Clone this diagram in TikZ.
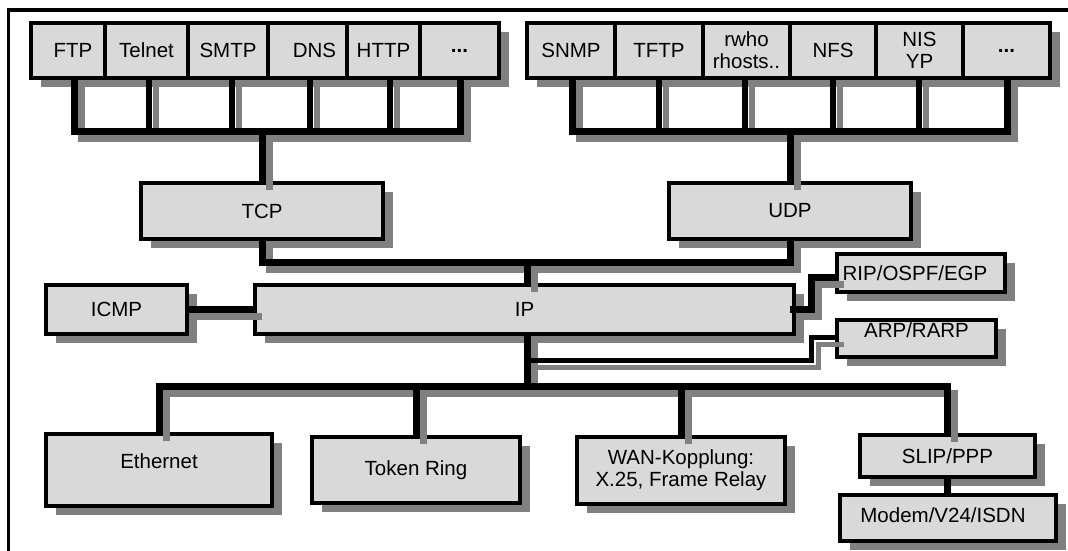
\documentclass[tikz,border=0pt]{standalone}
\usepackage{fontspec}
\setmainfont{Liberation Sans}
\usetikzlibrary{shadows}

\definecolor{boxfill}{gray}{0.85}
\definecolor{shadowgray}{gray}{0.5}
\newcommand\lblfont{\fontsize{20.5}{22}\selectfont}

% all connectors between the protocol boxes; drawn twice (shadow, then ink)
\newcommand\protocollinks{%
  % application layer over TCP
  \draw[bus]  ([xshift=6pt]ftp.south) |- (tcpbus) -| ([xshift=0.5pt]dotsl.south);
  \draw[stub] ([xshift=2.5pt]telnet.south) -- ++(0,53);
  \draw[stub] ([xshift=4pt]smtp.south) -- ++(0,53);
  \draw[stub] ([xshift=2.5pt]dns.south) -- ++(0,53);
  \draw[stub] ([xshift=6.5pt]http.south) -- ++(0,53);
  \draw[bus]  (tcpbus) -- (tcp.north);
  % application layer over UDP
  \draw[bus]  ([xshift=1pt]snmp.south) |- (udpbus) -| ([xshift=0.5pt]dotsr.south);
  \draw[stub] (tftp.south) -- ++(0,53);
  \draw[stub] ([xshift=-1.5pt]rwho.south) -- ++(0,53);
  \draw[stub] (nfs.south) -- ++(0,53);
  \draw[stub] ([xshift=-0.5pt]nis.south) -- ++(0,53);
  \draw[bus]  (udpbus) -- (udp.north);
  % transport layer over IP
  \draw[bus]  (tcp.south) |- (ipjoin);
  \draw[bus]  (udp.south) |- (ipjoin);
  \draw[bus]  (ipjoin) -- (ipjoin |- ip.north);
  % ICMP and routing protocols beside IP
  \draw[bus]  (icmp.east) -- (ip.west);
  \draw[bus]  ([xshift=-4pt]ip.east) -- ++(21,0) |- ([yshift=-4pt]rip.west);
  % IP down to the network layer
  \draw[bus]  (ip.south -| lanbus) -- (lanbus);
  \draw[tap]  (arptap) -- (arpbend) |- ([yshift=1.5pt]arp.west);
  \draw[bus]  (eth.north) |- (lanbus) -| (slip.north);
  \draw[bus]  (tr.north) -- (tr.north |- lanbus);
  \draw[bus]  (wan.north) -- (wan.north |- lanbus);
}

\begin{document}
\begin{tikzpicture}[x=1pt, y=-1pt,
  box/.style={draw=black, line width=3.5pt, fill=boxfill, inner sep=0pt,
    outer sep=0pt, font=\lblfont, align=center,
    drop shadow={shadow xshift=10pt, shadow yshift=-9pt, fill=shadowgray, opacity=1}},
  cellbox/.style={box, minimum height=55pt},
  midbox/.style={box, minimum width=242pt, minimum height=56pt},
  lbl/.style={font=\lblfont, inner sep=0pt},
  bus/.style={line width=7pt},
  stub/.style={line width=5.5pt},
  tap/.style={line width=5pt},
  frame/.style={line width=3.8pt, draw=black}]

\useasboundingbox (0,0) rectangle (1068,551);

% outer frame
\draw[frame] (1068,10) -- (8.5,10) -- (8.5,551);

% application protocols over TCP
\node[cellbox, minimum width=74pt, label={[lbl, name=ftp-t, xshift=5pt]center:FTP}] (ftp) at (68,50.5) {};
\node[cellbox, minimum width=83pt] (telnet) at (146.5,50.5) {Telnet};
\node[cellbox, minimum width=80pt] (smtp) at (228,50.5) {SMTP};
\node[cellbox, minimum width=79pt, label={[lbl, name=dns-t, xshift=7pt]center:DNS}] (dns) at (307.5,50.5) {};
\node[cellbox, minimum width=73pt] (http) at (383.5,50.5) {HTTP};
\node[cellbox, minimum width=79pt] (dotsl) at (459.5,50.5) {\bfseries ...};

% application protocols over UDP
\node[cellbox, minimum width=88pt] (snmp) at (571,50.5) {SNMP};
\node[cellbox, minimum width=88pt] (tftp) at (659,50.5) {TFTP};
\node[cellbox, minimum width=87pt] (rwho) at (746.5,50.5) {rwho\\rhosts..};
\node[cellbox, minimum width=86pt] (nfs) at (833,50.5) {NFS};
\node[cellbox, minimum width=87pt] (nis) at (919.5,50.5) {NIS\\YP};
\node[cellbox, minimum width=87pt] (dotsr) at (1006.5,50.5) {\bfseries ...};

% transport layer
\node[midbox] (tcp) at (262,211) {TCP};
\node[midbox] (udp) at (790,211) {UDP};

% internet layer
\node[box, minimum width=141pt, minimum height=49pt] (icmp) at (116.5,309.5) {ICMP};
\node[box, minimum width=539pt, minimum height=49pt] (ip) at (524.5,309.5) {IP};
\node[box, minimum width=168pt, minimum height=38pt,
      label={[lbl, name=rip-t, xshift=-6pt]center:RIP/OSPF/EGP}] (rip) at (921,273) {};
\node[box, minimum width=159pt, minimum height=37pt,
      label={[lbl, name=arp-t, yshift=8.5pt]center:ARP/RARP}] (arp) at (916.5,338.5) {};

% network access layer
\node[box, minimum width=226pt, minimum height=72pt,
      label={[lbl, name=eth-t, yshift=9pt]center:Ethernet}] (eth) at (159,470) {};
\node[box, minimum width=208pt, minimum height=66pt] (tr) at (416,470) {Token Ring};
\node[box, minimum width=208pt, minimum height=67pt] (wan) at (681,470.5) {WAN-Kopplung:\\X.25, Frame Relay};
\node[box, minimum width=175pt, minimum height=42pt] (slip) at (947.5,456) {SLIP/PPP};
\node[box, minimum width=216pt, minimum height=46pt,
      label={[lbl, name=modem-t, xshift=-5pt, yshift=3pt]center:Modem/V24/ISDN}] (modem) at (948,518) {};

% junction points of the connector buses
\coordinate (tcpbus) at (262,131);
\coordinate (udpbus) at (790,131);
\coordinate (ipjoin) at (527,262);
\coordinate (lanbus) at (527,386);
\coordinate (arptap) at (527,360);
\coordinate (arpbend) at (811,360);

% connector shadows first, then the black connectors on top
\begin{scope}[color=shadowgray, transform canvas={xshift=7pt, yshift=-7pt}]
  \protocollinks
\end{scope}
\begin{scope}[color=black]
  \protocollinks
  \draw[bus] (slip.south) -- (slip.south |- modem.north);
\end{scope}

\end{tikzpicture}
\end{document}
